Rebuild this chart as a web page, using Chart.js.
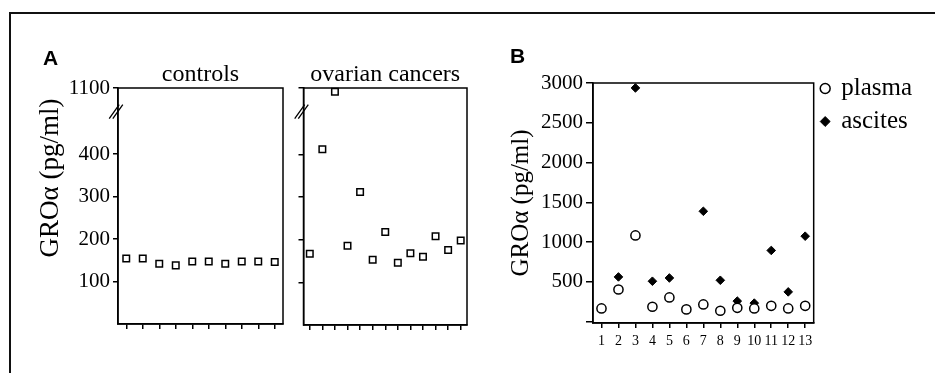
<!DOCTYPE html>
<html>
<head>
<meta charset="utf-8">
<script src="https://cdn.jsdelivr.net/npm/chart.js@4.4.0/dist/chart.umd.min.js"></script>
<style>
  body { margin: 0; background: #fff; }
  #wrap { position: relative; width: 935px; height: 373px; overflow: hidden; }
  #frame { position: absolute; left: 9px; top: 12px; width: 960px; height: 400px; border-top: 2px solid #111; border-left: 2px solid #111; }
  canvas { position: absolute; top: 0; }
</style>
</head>
<body>
<div id="wrap">
  <div id="frame"></div>
  <canvas id="controlsChart" width="300" height="373" style="left:0px"></canvas>
  <canvas id="cancerChart" width="200" height="373" style="left:290px"></canvas>
  <canvas id="pairedChart" width="455" height="373" style="left:480px"></canvas>
</div>
<script>
// Panel A: plasma GROa, controls vs ovarian cancers
const controlLabels = ["1", "2", "3", "4", "5", "6", "7", "8", "9", "10"];
const controlValues = [154, 154, 142, 138, 147, 147, 142, 147, 147, 146];
const cancerLabels = ["1", "2", "3", "4", "5", "6", "7", "8", "9", "10", "11", "12", "13"];
const cancerValues = [167, 412, 1005, 186, 312, 153, 218, 146, 168, 160, 208, 176, 198];
const brokenTicks = [100, 200, 300, 400, 1100];

// Panel B: paired plasma / ascites
const patientLabels = ["1", "2", "3", "4", "5", "6", "7", "8", "9", "10", "11", "12", "13"];
const plasmaValues = [167, 405, 1084, 188, 305, 155, 217, 138, 175, 167, 200, 167, 200];
const ascitesValues = [null, 563, 2938, 509, 550, null, 1388, 521, 259, 234, 896, 375, 1075];
const pairedTicks = [0, 500, 1000, 1500, 2000, 2500, 3000];

const serif = "'Liberation Serif', 'Times New Roman', serif";
const BREAK_AT = 500;
const BREAK_FRAC = 0.9; // part of the axis below the break

// linear axis with a compressed top part (500..max)
class BrokenScale extends Chart.LinearScale {
  getPixelForValue(value) {
    let dec;
    if (value <= BREAK_AT) dec = (value - this.min) / (BREAK_AT - this.min) * BREAK_FRAC;
    else dec = BREAK_FRAC + (value - BREAK_AT) / (this.max - BREAK_AT) * (1 - BREAK_FRAC);
    return this.getPixelForDecimal(dec);
  }
  getValueForPixel(pixel) {
    const dec = this.getDecimalForPixel(pixel);
    if (dec <= BREAK_FRAC) return this.min + dec / BREAK_FRAC * (BREAK_AT - this.min);
    return BREAK_AT + (dec - BREAK_FRAC) / (1 - BREAK_FRAC) * (this.max - BREAK_AT);
  }
}
BrokenScale.id = "broken";
Chart.register(BrokenScale);

// box around the plot area
const framePlugin = {
  id: "frame",
  beforeDatasetsDraw(chart) {
    const a = chart.chartArea;
    const ctx = chart.ctx;
    ctx.save();
    ctx.strokeStyle = "#000";
    ctx.lineWidth = 1.5;
    ctx.strokeRect(a.left, a.top, a.right - a.left, a.bottom - a.top);
    ctx.restore();
  }
};

// "//" mark on the left axis
const breakPlugin = {
  id: "axisBreak",
  afterDraw(chart, args, opts) {
    if (!opts.display) return;
    const ctx = chart.ctx;
    const y = chart.scales.y.getPixelForValue(BREAK_AT);
    const x = chart.chartArea.left - 2;
    ctx.save();
    ctx.strokeStyle = "#000";
    ctx.lineWidth = 1.3;
    ctx.beginPath();
    for (const d of [-1.8, 1.8]) {
      ctx.moveTo(x - 5 + d, y + 7);
      ctx.lineTo(x + 5 + d, y - 7);
    }
    ctx.stroke();
    ctx.restore();
  }
};

// group title above the plot, panel letter, shared y title
const headerPlugin = {
  id: "header",
  afterDraw(chart, args, opts) {
    const ctx = chart.ctx;
    const a = chart.chartArea;
    ctx.save();
    ctx.fillStyle = "#000";
    ctx.textBaseline = "alphabetic";
    if (opts.text) {
      ctx.font = "24px " + serif;
      ctx.textAlign = "center";
      ctx.fillText(opts.text, (a.left + a.right) / 2, a.top - 7);
    }
    if (opts.letter) {
      ctx.font = "bold 21px 'Liberation Sans', Arial, sans-serif";
      ctx.textAlign = "left";
      ctx.fillText(opts.letter, opts.letterX, opts.letterY);
    }
    if (opts.yTitle) {
      ctx.font = "27px " + serif;
      ctx.textAlign = "center";
      ctx.textBaseline = "middle";
      ctx.translate(opts.yTitleX, opts.yTitleY);
      ctx.rotate(-Math.PI / 2);
      ctx.fillText(opts.yTitle, 0, 0);
    }
    ctx.restore();
  }
};

function brokenAxis(showLabels, width) {
  return {
    type: "broken",
    position: "left",
    min: 0,
    max: 1100,
    afterBuildTicks: (s) => { s.ticks = brokenTicks.map((v) => ({ value: v })); },
    afterFit: (s) => { s.width = width; },
    border: { color: "#000", width: 1.5 },
    grid: { drawOnChartArea: false, drawTicks: true, tickLength: 5, color: "#000", lineWidth: 1.5 },
    ticks: { color: "#000", padding: 3, font: { family: serif, size: 21 }, callback: (v) => (showLabels ? String(v) : "") }
  };
}

function categoryAxis(labels, height, showLabels) {
  return {
    type: "category",
    labels: labels,
    offset: true,
    afterFit: (s) => { s.height = height; },
    border: { color: "#000", width: 1.5 },
    grid: { offset: false, drawOnChartArea: false, drawTicks: true, tickLength: 5, color: "#000", lineWidth: 1.5 },
    ticks: {
      autoSkip: false, maxRotation: 0, color: "#000", padding: 5,
      font: { family: serif, size: 14 },
      callback: function (v) { return showLabels ? this.getLabelForValue(v) : ""; }
    }
  };
}

function squareSet(values) {
  return {
    data: values,
    showLine: false,
    clip: false,
    pointStyle: "rect",
    pointRadius: 4.6,
    pointBorderWidth: 1.5,
    pointBorderColor: "#000",
    pointBackgroundColor: "#fff"
  };
}

// A: controls
new Chart(document.getElementById("controlsChart"), {
  type: "line",
  data: { labels: controlLabels, datasets: [squareSet(controlValues)] },
  options: {
    responsive: false,
    animation: false,
    events: [],
    layout: { padding: { top: 88, right: 17, left: 0, bottom: 0 } },
    scales: { x: categoryAxis(controlLabels, 49, false), y: brokenAxis(true, 118) },
    plugins: {
      legend: { display: false },
      tooltip: { enabled: false },
      axisBreak: { display: true },
      header: {
        text: "controls", letter: "A", letterX: 43, letterY: 65,
        yTitle: "GROα (pg/ml)", yTitleX: 51, yTitleY: 178
      }
    }
  },
  plugins: [framePlugin, breakPlugin, headerPlugin]
});

// A: ovarian cancers
new Chart(document.getElementById("cancerChart"), {
  type: "line",
  data: { labels: cancerLabels, datasets: [squareSet(cancerValues)] },
  options: {
    responsive: false,
    animation: false,
    events: [],
    layout: { padding: { top: 88, right: 23, left: 0, bottom: 0 } },
    scales: { x: categoryAxis(cancerLabels, 48, false), y: brokenAxis(false, 13.5) },
    plugins: {
      legend: { display: false },
      tooltip: { enabled: false },
      axisBreak: { display: true },
      header: { text: "ovarian cancers" }
    }
  },
  plugins: [framePlugin, breakPlugin, headerPlugin]
});

// B: plasma vs ascites
new Chart(document.getElementById("pairedChart"), {
  type: "line",
  data: {
    labels: patientLabels,
    datasets: [
      {
        label: "plasma",
        data: plasmaValues,
        showLine: false,
        clip: false,
        pointStyle: "circle",
        pointRadius: 4.6,
        pointBorderWidth: 1.5,
        borderColor: "#000",
        backgroundColor: "#fff",
        pointBorderColor: "#000",
        pointBackgroundColor: "#fff"
      },
      {
        label: "ascites",
        data: ascitesValues,
        showLine: false,
        clip: false,
        pointStyle: "rectRot",
        pointRadius: 4.3,
        pointBorderWidth: 1,
        borderColor: "#000",
        backgroundColor: "#000",
        pointBorderColor: "#000",
        pointBackgroundColor: "#000"
      }
    ]
  },
  options: {
    responsive: false,
    animation: false,
    events: [],
    layout: { padding: { top: 68, right: 13, left: 0, bottom: 0 } },
    scales: {
      x: categoryAxis(patientLabels, 50, true),
      xTop: {
        type: "category",
        position: "top",
        grid: { display: false },
        border: { display: false },
        ticks: { display: false },
        afterFit: (s) => { s.height = 15; }
      },
      y: {
        type: "linear",
        min: -16,
        max: 3000,
        afterBuildTicks: (s) => { s.ticks = pairedTicks.map((v) => ({ value: v })); },
        afterFit: (s) => { s.width = 113; },
        border: { color: "#000", width: 1.5 },
        grid: { drawOnChartArea: false, drawTicks: true, tickLength: 7, color: "#000", lineWidth: 1.5 },
        ticks: { color: "#000", padding: 3, font: { family: serif, size: 21 }, callback: (v) => (v === 0 ? "" : String(v)) },
        title: {
          display: true,
          text: "GROα (pg/ml)",
          color: "#000",
          font: { family: serif, size: 25 },
          padding: { top: 26, bottom: 0 }
        }
      }
    },
    plugins: {
      legend: {
        position: "right",
        align: "start",
        labels: {
          usePointStyle: true,
          boxWidth: 7,
          boxHeight: 7,
          padding: 8,
          color: "#000",
          font: { family: serif, size: 25 }
        }
      },
      tooltip: { enabled: false },
      axisBreak: { display: false },
      header: { letter: "B", letterX: 30, letterY: 63 }
    }
  },
  plugins: [framePlugin, breakPlugin, headerPlugin]
});
</script>
</body>
</html>
